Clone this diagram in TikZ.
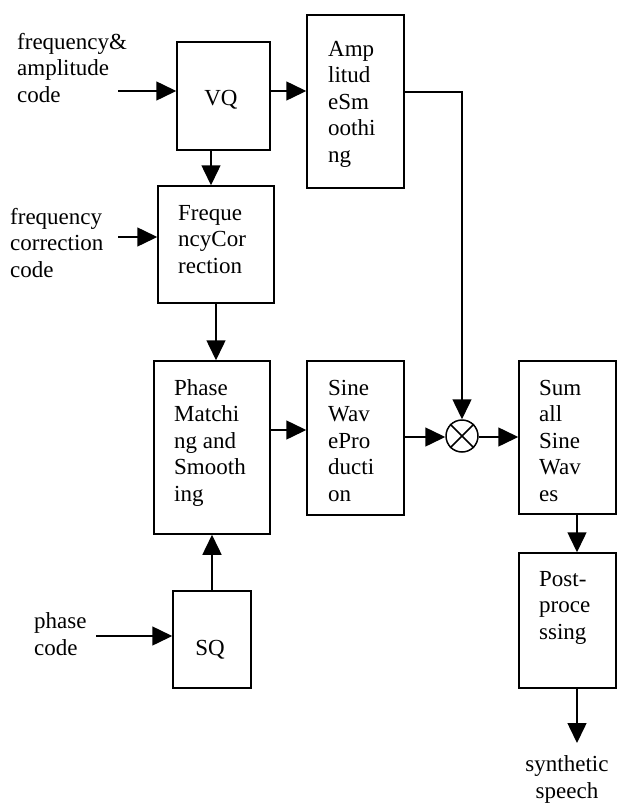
\documentclass[tikz,border=0pt]{standalone}
\usepackage{fontspec}
\setmainfont{Liberation Serif}
\usetikzlibrary{arrows.meta}
\begin{document}
\begin{tikzpicture}[x=1pt,y=-1pt,
  blk/.style={draw, line width=1.5pt, inner sep=0pt, rectangle},
  txt/.style={inner sep=0pt, align=left, font=\fontsize{23}{26.5}\selectfont},
  arr/.style={line width=1.5pt, -{Triangle[length=20pt,width=19pt]}},
  mult/.style={draw, circle, line width=1.5pt, minimum size=32pt, inner sep=0pt}]
\useasboundingbox (0,0) rectangle (617,803);

% processing blocks
\node[blk, minimum width=93pt,  minimum height=108pt] (vq)   at (223.5,96)  {};
\node[blk, minimum width=97pt,  minimum height=173pt] (amp)  at (355.5,101.5) {};
\node[blk, minimum width=116pt, minimum height=117pt] (fc)   at (216,244.5) {};
\node[blk, minimum width=116pt, minimum height=173pt] (ph)   at (212,447.5) {};
\node[blk, minimum width=97pt,  minimum height=154pt] (sine) at (355.5,438) {};
\node[blk, minimum width=97pt,  minimum height=153pt] (sum)  at (567.5,437.5) {};
\node[blk, minimum width=97pt,  minimum height=135pt] (post) at (567.5,620.5) {};
\node[blk, minimum width=78pt,  minimum height=97pt]  (sq)   at (212,639.5) {};
\node[mult] (circ) at (462,436) {};
\draw[line width=1.5pt] (circ.north west) -- (circ.south east)
                        (circ.north east) -- (circ.south west);

% block texts (base anchor = baseline of the last line)
\node[txt, anchor=base] (vqT) at (221,105) {VQ};
\node[txt, anchor=base] (sqT) at (210,655) {SQ};
\node[txt, anchor=base west] (ampT)  at (328,162) {Amp\\litud\\eSm\\oothi\\ng};
\node[txt, anchor=base west] (fcT)   at (178,273) {Freque\\ncyCor\\rection};
\node[txt, anchor=base west] (phT)   at (174,501) {Phase\\Matchi\\ng and\\Smooth\\ing};
\node[txt, anchor=base west] (sineT) at (328,501) {Sine\\Wav\\ePro\\ducti\\on};
\node[txt, anchor=base west] (sumT)  at (539,501) {Sum\\all\\Sine\\Wav\\es};
\node[txt, anchor=base west] (postT) at (539,639) {Post-\\proce\\ssing};

% input and output labels
\node[txt, anchor=base west] (lab1) at (17,102)  {frequency\&\\amplitude\\code};
\node[txt, anchor=base west] (lab2) at (10,277) {frequency\\correction\\code};
\node[txt, anchor=base west] (lab3) at (34,655) {phase\\code};
\node[txt, anchor=base, align=center] (lab4) at (567,798) {synthetic\\speech};

% connectors
\coordinate (in1) at (118,91);
\coordinate (in2) at (118,237);
\coordinate (in3) at (96,636);
\coordinate (outp) at (577,743);
\draw[arr] (in1) -- (in1 -| vq.west);
\draw[arr] (vq.east |- in1) -- (amp.west |- in1);
\draw[arr] ([xshift=-12.5pt]vq.south) -- ([xshift=-12.5pt]vq.south |- fc.north);
\draw[arr] (in2) -- (in2 -| fc.west);
\draw[arr] (fc.south) -- (fc.south |- ph.north);
\draw[arr] (ph.east |- 0,430) -- (sine.west |- 0,430);
\draw[arr] (sine.east |- 0,437) -- (circ.west |- 0,437);
\draw[arr] (circ.east |- 0,437) -- (sum.west |- 0,437);
\draw[arr] ([yshift=9.5pt]amp.east) -| (circ.north);
\draw[arr] ([xshift=9.5pt]sum.south) -- ([xshift=9.5pt]sum.south |- post.north);
\draw[arr] ([xshift=9.5pt]post.south) -- (outp);
\draw[arr] (sq.north) -- (sq.north |- ph.south);
\draw[arr] (in3) -- (in3 -| sq.west);
\end{tikzpicture}
\end{document}
